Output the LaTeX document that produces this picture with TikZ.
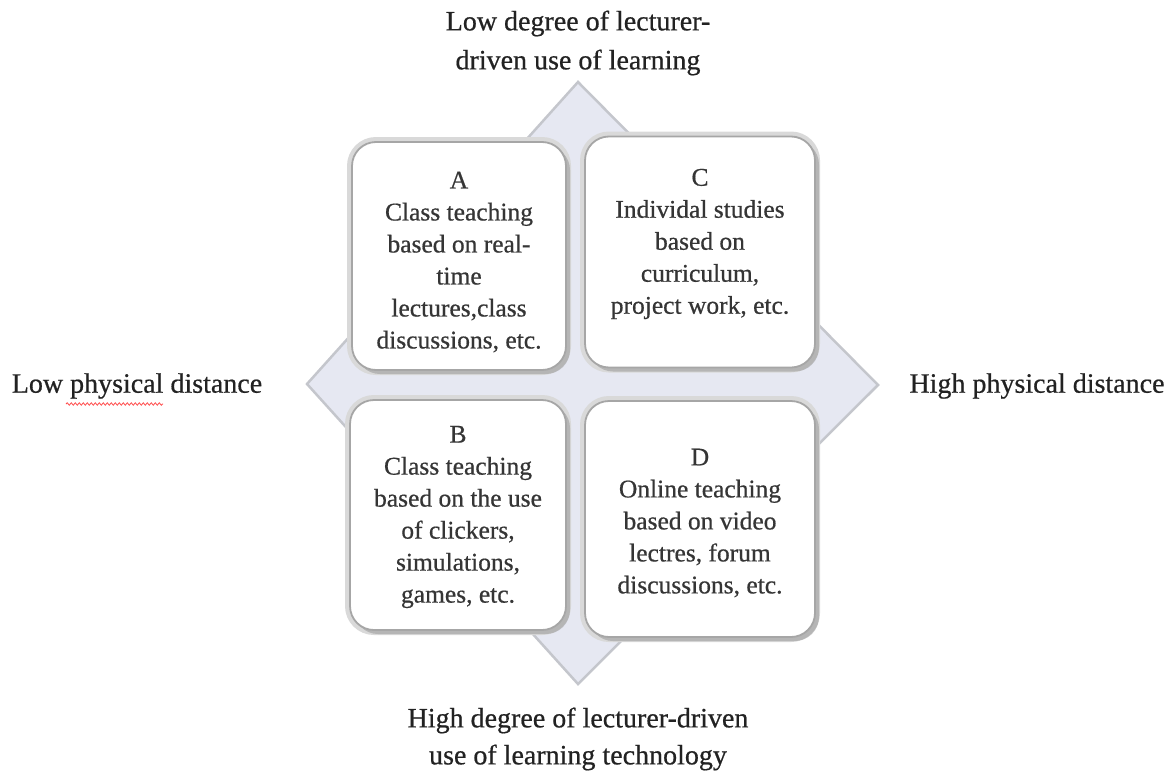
\documentclass[tikz,border=0pt]{standalone}
\usepackage{fontspec}
\setmainfont{Liberation Serif}[FakeBold=0.6]
\usetikzlibrary{shadows,decorations.pathmorphing}
\definecolor{diafill}{HTML}{E6E8F2}
\definecolor{diaedge}{HTML}{C4C6CC}
\definecolor{boxtext}{HTML}{353535}
\definecolor{labtext}{HTML}{222222}
\tikzset{
  quadbox/.style={rounded corners=24pt, fill=white, draw=gray!70, line width=1.8pt,
    preaction={draw=gray!30, line width=10pt},
    drop shadow={shadow xshift=4pt, shadow yshift=-4pt, opacity=0.4, fill=gray},
    inner sep=0pt},
  boxlabel/.style={align=center, text=boxtext, font=\fontsize{25.5}{32}\selectfont, inner sep=0pt},
  axislabel/.style={align=center, text=labtext, font=\fontsize{28}{39}\selectfont, inner sep=0pt}
}
\begin{document}
\begin{tikzpicture}[x=1pt,y=-1pt]
\useasboundingbox (0,0) rectangle (1167,771);
% background diamond
\draw[fill=diafill, draw=diaedge, line width=2.5pt, line join=miter]
  (307,384) -- (578,82) -- (878,385) -- (578,684) -- cycle;
% quadrant boxes
\node[quadbox, minimum width=214pt, minimum height=228pt] (A) at (459,256) {};
\node[quadbox, minimum width=230pt, minimum height=231pt] (C) at (700,252) {};
\node[quadbox, minimum width=216pt, minimum height=230pt] (B) at (458,515) {};
\node[quadbox, minimum width=230pt, minimum height=236pt] (D) at (700,519) {};
% box texts
\node[boxlabel] (tA) at (459,262) {A\\Class teaching\\based on real-\\time\\lectures,class\\discussions, etc.};
\node[boxlabel] (tC) at (700,244) {C\\Individal studies\\based on\\curriculum,\\project work, etc.};
\node[boxlabel] (tB) at (458,517) {B\\Class teaching\\based on the use\\of clickers,\\simulations,\\games, etc.};
\node[boxlabel] (tD) at (700,523) {D\\Online teaching\\based on video\\lectres, forum\\discussions, etc.};
% axis labels
\node[axislabel] (top) at (578,43) {Low degree of lecturer-\\driven use of learning};
\node[axislabel, font=\fontsize{28}{37}\selectfont] (bottom) at (578,739) {High degree of lecturer-driven\\use of learning technology};
\node[axislabel] (left) at (137,386) {Low physical distance};
\node[axislabel] (right) at (1037,386) {High physical distance};
% spell-check underline
\coordinate (sq1) at (66,404);
\coordinate (sq2) at (163,404);
\draw[red!70, line width=0.8pt, decorate, decoration={snake, amplitude=1.2pt, segment length=4pt}] (sq1) -- (sq2);
\end{tikzpicture}
\end{document}
